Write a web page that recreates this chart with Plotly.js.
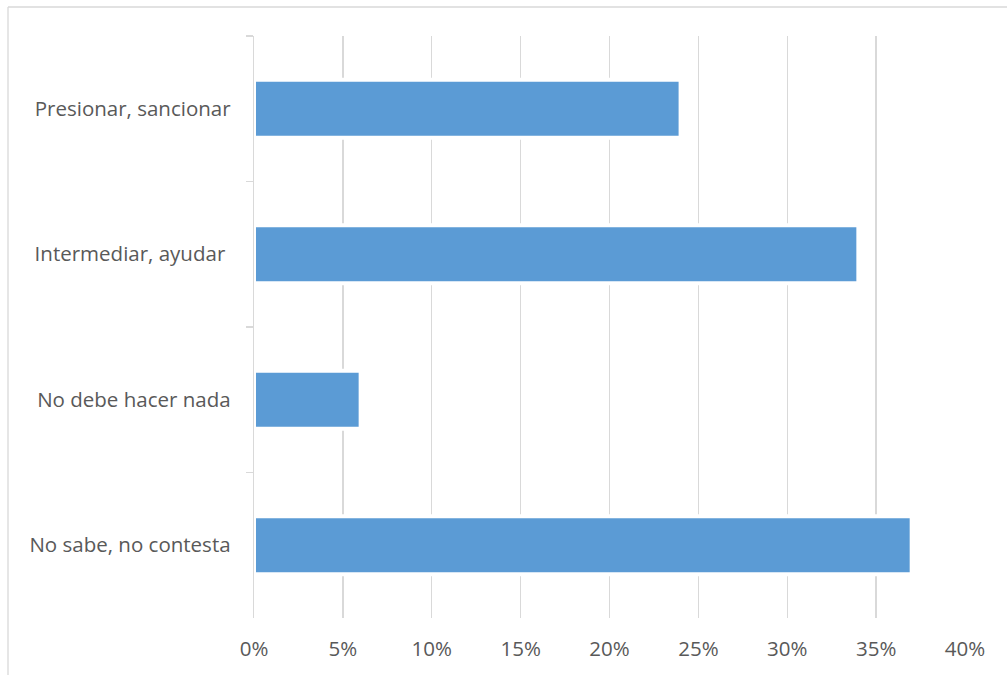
<!DOCTYPE html>
<html><head><meta charset="utf-8">
<script src="https://cdn.plot.ly/plotly-3.0.1.min.js"></script>
<style>html,body{margin:0;padding:0;background:#fff}#chart{width:1007px;height:675px}</style>
</head><body><div id="chart"></div>
<script>
const categories = ["Presionar, sancionar", "Intermediar, ayudar ", "No debe hacer nada", "No sabe, no contesta"];
const values = [0.24, 0.34, 0.06, 0.37];
const xTickValues = [0, 0.05, 0.10, 0.15, 0.20, 0.25, 0.30, 0.35, 0.40];
const xTickLabels = ["0%", "5%", "10%", "15%", "20%", "25%", "30%", "35%", "40%"];

const trace = {
  type: "bar", orientation: "h",
  x: values, y: categories,
  marker: {color: "#5B9BD5", line: {color: "#ffffff", width: 4}},
  width: 0.40,
  hoverinfo: "none"
};
const layout = {
  width: 1007, height: 675,
  margin: {l: 254, r: 42, t: 36, b: 57},
  paper_bgcolor: "#fff", plot_bgcolor: "#fff",
  font: {family: "'Open Sans', sans-serif", size: 20.5, color: "#595959"},
  showlegend: false,
  xaxis: {
    range: [0, 0.4], tickvals: xTickValues, ticktext: xTickLabels,
    showgrid: true, gridcolor: "#d9d9d9", gridwidth: 1.3,
    zeroline: false, showline: false, ticks: "", ticklabelstandoff: 16,
    fixedrange: true
  },
  yaxis: {
    type: "category", autorange: "reversed",
    showline: true, linecolor: "#d9d9d9", linewidth: 1.3,
    ticks: "outside", tickson: "boundaries", ticklen: 7, tickcolor: "#d9d9d9", tickwidth: 1.3,
    showgrid: false, zeroline: false, ticklabelstandoff: 18,
    fixedrange: true
  },
  shapes: [
    {type: "line", xref: "paper", yref: "paper", x0: -246/711, x1: 1.1, y0: 1 + 29/582, y1: 1 + 29/582, line: {color: "#d9d9d9", width: 1.3}},
    {type: "line", xref: "paper", yref: "paper", x0: -246/711, x1: -246/711, y0: 1 + 29/582, y1: -0.2, line: {color: "#d9d9d9", width: 1.3}}
  ]
};
Plotly.newPlot("chart", [trace], layout, {displayModeBar: false, staticPlot: true});
</script></body></html>
